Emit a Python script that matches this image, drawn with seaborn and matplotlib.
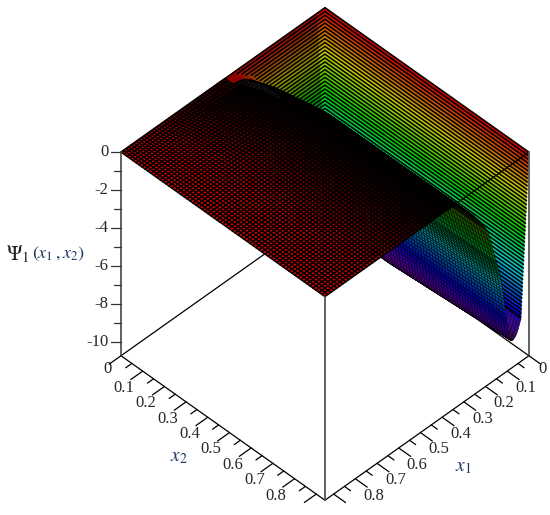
import numpy as np
import matplotlib
matplotlib.use("Agg")
import matplotlib.pyplot as plt
from mpl_toolkits.mplot3d import proj3d
import seaborn as sns

# depth of the surface along x1, section by section
psi_wall = [0, -0.19, -0.38, -0.57, -0.76, -0.95, -1.14, -1.33, -1.52, -1.71, -1.9, -2.09,
            -2.28, -2.47, -2.66, -2.85, -3.04, -3.23, -3.42, -3.61, -3.8, -3.99, -4.18, -4.37,
            -4.56, -4.75, -4.94, -5.13, -5.32, -5.51, -5.7, -5.89, -6.08, -6.27, -6.46, -6.65,
            -6.84, -7.03, -7.22, -7.41, -7.6, -7.79, -7.98, -8.17, -8.36, -8.47]
psi_valley = [-8.56, -8.65, -8.72, -8.79, -8.87, -8.93, -8.98, -9.04, -9.09, -9.13, -9.16, -9.19,
              -9.21, -9.23, -9.26, -9.27, -9.28, -9.28, -9.28, -9.27, -9.26, -9.23, -9.19, -9.13,
              -9.05, -8.94, -8.82, -8.67, -8.5, -8.31, -8.1, -7.89, -7.66, -7.43, -7.22, -7.01,
              -6.81, -6.62, -6.43, -6.26, -6.09, -5.95, -5.8, -5.65, -5.53, -5.4, -5.29, -5.17,
              -5.06, -4.95, -4.85, -4.74, -4.64, -4.53]
psi_rise = [-4.24, -3.93, -3.61, -3.3, -2.98, -2.67, -2.51, -2.37, -2.22, -2.07, -1.94, -1.82,
            -1.71, -1.59, -1.48, -1.36, -1.26, -1.15, -1.05, -0.94, -0.85, -0.75, -0.66, -0.57,
            -0.48, -0.4, -0.32, -0.25, -0.19, -0.14, -0.09, -0.06, -0.04, -0.02, -0.01, 0]
# the x2=0 side falls like the x1=0 side, this is the bit after the wall
psi_x2_round = [-8.8, -9.05, -9.3, -9.55, -9.8]

# valley gets a little deeper away from the x2 end
deep_x2 = [0, 0.38, 0.94]
deep_val = [1.05, 1.05, 1.0]
# ridge moves to larger x1 close to x2=0
ridge_x2 = [0.03, 0.11, 0.22, 0.31]
ridge_shift = [0.085, 0.047, 0.02, 0]

x_ticks_major = [0, 0.1, 0.2, 0.3, 0.4, 0.5, 0.6, 0.7, 0.8, 0.9]
x_ticks_minor = [0.05, 0.15, 0.25, 0.35, 0.45, 0.55, 0.65, 0.75, 0.85]
x_labels = ["0", "0.1", "0.2", "0.3", "0.4", "0.5", "0.6", "0.7", "0.8"]
psi_ticks_major = [0, -2, -4, -6, -8, -10]
psi_ticks_minor = [-1, -3, -5, -7, -9]
psi_labels = ["0", "-2", "-4", "-6", "-8", "-10"]

# darkness of the fold (style only)
shade_x1 = [0.0376, 0.06, 0.11, 0.15, 0.19, 0.25, 0.31, 0.376, 0.45, 0.55, 0.65, 0.75, 0.94]
shade_val = [0.9, 0.7, 0.6, 0.42, 0.25, 0.1, 0.05, 0.02, 0.1, 0.28, 0.5, 0.72, 0.88]

x_max = 0.94
z_bot = -10.7
wall_w = 0.0376
fold_end = 0.376

sns.set_style("white")
plt.rcParams["font.family"] = ["Liberation Serif", "DejaVu Serif"]
plt.rcParams["mathtext.fontset"] = "stix"

palette = np.array(sns.hls_palette(256, h=0, l=0.5, s=1))


def colours(Z, shade):
    # Maple style hue by height, red on top and purple at the bottom
    hue = np.clip(-Z / 9.4 * 0.78, 0, 0.78)
    c = palette[(hue * 255).astype(int)] * shade[:, :, None]
    return np.dstack([c, np.ones(Z.shape)])


x1_wall = np.linspace(0, wall_w, len(psi_wall))
x1_fold = np.concatenate([np.linspace(wall_w, 0.1504, len(psi_valley) + 1),
                          np.linspace(0.1504, fold_end, len(psi_rise) + 1)[1:]])
psi_fold = np.array([psi_wall[-1]] + psi_valley + psi_rise)
x1_flat = np.linspace(fold_end, x_max, 42)

x2_round = np.linspace(wall_w, 0.0436, len(psi_x2_round) + 1)
x2_main = np.concatenate([x2_round, np.linspace(0.0436, x_max, 66)[1:]])
drop_main = np.array([psi_wall[-1]] + psi_x2_round + [-12] * 65)

fig = plt.figure(figsize=(5.5, 5.15), dpi=100)
W = 485
ax = fig.add_axes([75.9 / 550, 12 / 515, W / 550, W / 515], projection="3d", computed_zorder=False)
ax.set_proj_type("ortho")
ax.view_init(elev=45.1, azim=45)
ax.set_box_aspect((1, 1, 1))
ax.set_xlim(0, x_max)
ax.set_ylim(0, x_max)
ax.set_zlim(z_bot, 0)
ax.set_axis_off()


def line(xs, ys, zs, color="k", lw=0.9, z=6):
    ax.plot(xs, ys, zs, color=color, lw=lw, zorder=z, clip_on=False)


def label(x, y, z, s, **kw):
    # 2D text at the projected spot of a 3D point
    px, py, _ = proj3d.proj_transform(x, y, z, ax.get_proj())
    ax.text2D(px, py, s, transform=ax.transData, va="center", fontsize=12, **kw)


def sheet(X, Y, Z, shade, z, edge=None, lw=0.5):
    cols = colours(Z, shade)
    s = ax.plot_surface(X, Y, Z, facecolors=cols, rstride=1, cstride=1, shade=False, zorder=z)
    s.set_clip_on(False)
    if edge is None:
        s.set_edgecolor(cols[:-1, :-1].reshape(-1, 4))
    else:
        s.set_edgecolor(edge)
    s.set_linewidth(lw)
    return s


# frame behind the surface
line([x_max, 0], [0, 0], [z_bot, z_bot], z=1)
line([0, 0], [x_max, 0], [z_bot, z_bot], z=1)

# wall along x1=0
x2_wall = np.linspace(0, wall_w, len(psi_wall))
x2_long = np.concatenate([x2_wall, x2_main[1:]])
drop_long = np.concatenate([psi_wall, drop_main[1:]])
X, Y = np.meshgrid(x1_wall, x2_long, indexing="ij")
Z = np.maximum(np.array(psi_wall)[:, None], drop_long[None, :])
sheet(X, Y, Z, np.full(Z.shape, 0.78), 2, lw=0.3)

# wall along x2=0
X, Y = np.meshgrid(x1_fold, x2_wall, indexing="ij")
Z = np.maximum(psi_fold[:, None], np.array(psi_wall)[None, :])
X = x1_fold[:, None] + np.interp(x2_wall, ridge_x2, ridge_shift)[None, :] * (x1_fold[:, None] - wall_w) / (fold_end - wall_w)
sheet(X, Y, Z, np.full(Z.shape, 0.55), 2, lw=0.3)

# level lines on the two walls make the chevrons
for i, lev in enumerate(psi_wall):
    if i == 0:
        continue
    deep = x1_fold[psi_fold <= lev]
    x_end = deep[-1] if len(deep) else x1_wall[i]
    x_end = x_end + ridge_shift[0] * (x_end - wall_w) / (fold_end - wall_w)
    xs = [x_end, x1_wall[i], x1_wall[i]]
    ys = [x2_wall[i], x2_wall[i], x_max]
    line(xs, ys, [lev, lev, lev], lw=1.1, z=3)

# fold and its underside
X, Y = np.meshgrid(x1_fold, x2_main, indexing="ij")
Z = np.maximum(psi_fold[:, None], drop_main[None, :])
deep_f = np.interp(x2_main, deep_x2, deep_val)
ramp = np.clip((x1_fold - wall_w) / 0.02, 0, 1)
Z = Z * (1 + (deep_f[None, :] - 1) * ramp[:, None])
X = X + np.interp(x2_main, ridge_x2, ridge_shift)[None, :] * (x1_fold[:, None] - wall_w) / (fold_end - wall_w)
shade = np.interp(x1_fold, shade_x1, shade_val)
sheet(X, Y, Z, np.repeat(shade[:, None], len(x2_main), axis=1), 4, edge="k", lw=0.3)

# flat top
x2_flat = np.linspace(0, x_max, 69)
X, Y = np.meshgrid(x1_flat, x2_flat, indexing="ij")
X = X + np.interp(x2_flat, ridge_x2, ridge_shift)[None, :] * (x_max - x1_flat[:, None]) / (x_max - fold_end)
Z = np.zeros(X.shape)
shade = np.interp(x1_flat, shade_x1, shade_val)
lift = np.where(x2_flat < 0.05, 0.3, 0.0)
sheet(X, Y, Z, np.maximum(shade[:, None], lift[None, :]), 5, edge="k", lw=1.0)

# frame in front
line([x_max, x_max], [0, x_max], [z_bot, z_bot])
line([0, x_max], [x_max, x_max], [z_bot, z_bot])
line([0, fold_end], [x_max, x_max], [0, 0])
line([0, x_max], [0, 0], [0, 0], lw=1.1)
line([0, 0], [0, x_max], [0, 0], lw=1.1)
for xv, yv in [(x_max, 0), (x_max, x_max), (0, x_max)]:
    line([xv, xv], [yv, yv], [z_bot, 0], color="#555555", lw=1.3)

for t in x_ticks_major:
    line([x_max, x_max + 0.055], [t, t], [z_bot, z_bot])
    line([t, t], [x_max, x_max + 0.055], [z_bot, z_bot])
for t in x_ticks_minor:
    line([x_max, x_max + 0.028], [t, t], [z_bot, z_bot])
    line([t, t], [x_max, x_max + 0.028], [z_bot, z_bot])
for t, lab in zip(x_ticks_major, x_labels):
    off = 0.062 if lab == "0" else 0.085
    label(x_max + off, t, z_bot - 0.2, lab, ha="center")
    label(t, x_max + off, z_bot - 0.2, lab, ha="center")

for t in psi_ticks_major:
    line([x_max, x_max + 0.024], [0, -0.024], [t, t], color="#333333")
for t in psi_ticks_minor:
    line([x_max, x_max + 0.015], [0, -0.015], [t, t], color="#333333")
for t, lab in zip(psi_ticks_major, psi_labels):
    label(x_max + 0.029, -0.029, t, lab, ha="right")

blue = "#1c3560"
fig.text(6 / 550, 1 - 254 / 515, r"$\Psi_{1}$", fontsize=15, va="center", color="#222222")
fig.text(32 / 550, 1 - 254 / 515, r"$(x_{1}\,,x_{2})$", fontsize=13, va="center", color=blue)
fig.text(179 / 550, 1 - 458 / 515, r"$x_{2}$", fontsize=14, ha="center", va="center", color=blue)
fig.text(463 / 550, 1 - 467 / 515, r"$x_{1}$", fontsize=14, ha="center", va="center", color=blue)

fig.savefig("out.png", dpi=100)
